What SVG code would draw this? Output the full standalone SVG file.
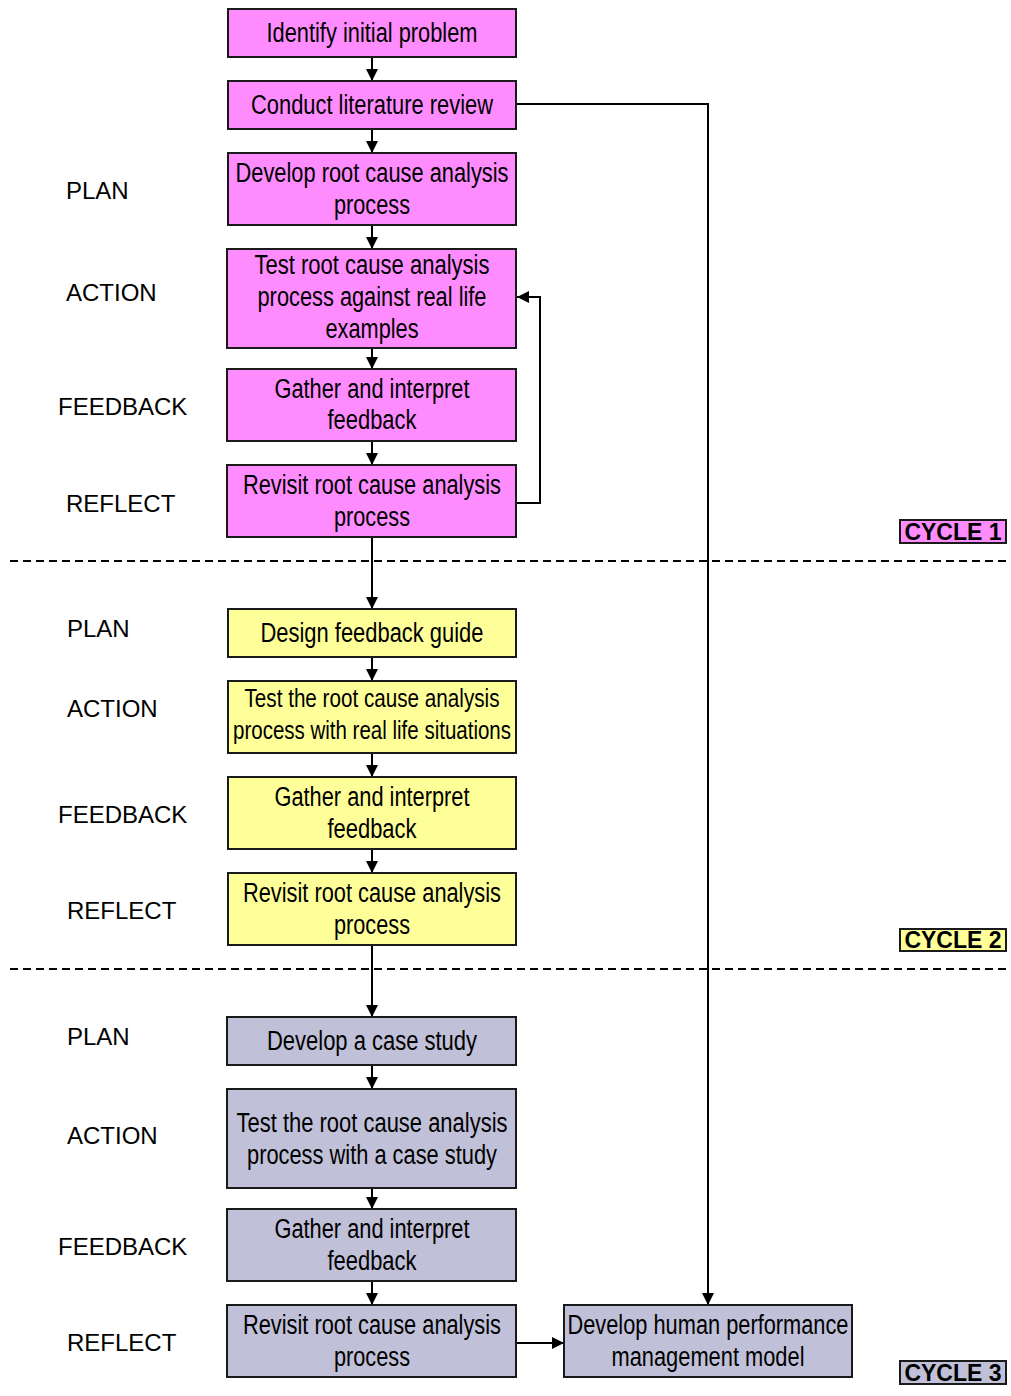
<svg xmlns="http://www.w3.org/2000/svg" width="1011" height="1396" viewBox="0 0 1011 1396">
<style>
.box{stroke:#1a1a1a;stroke-width:2}
.c1{fill:#ff8cff}
.c2{fill:#ffff99}
.c3{fill:#c0c0d8}
.t{font-family:"Liberation Sans Narrow","Liberation Sans",Arial,sans-serif;font-size:27px;fill:#000;text-anchor:middle}
.lab{font-family:"Liberation Sans",Arial,sans-serif;font-size:24px;fill:#000}
.cyc{font-family:"Liberation Sans",Arial,sans-serif;font-size:23px;font-weight:bold;fill:#000;text-anchor:middle}
.con{fill:none;stroke:#000;stroke-width:2}
.dash{stroke:#000;stroke-width:2;stroke-dasharray:8,5}
</style>
<defs>
<marker id="ah" markerUnits="userSpaceOnUse" markerWidth="14" markerHeight="12" refX="12" refY="6" orient="auto">
<path d="M0,0 L12,6 L0,12 Z" fill="#000"/>
</marker>
</defs>
<rect width="1011" height="1396" fill="#fff"/>

<!-- dashed separators -->
<line class="dash" x1="10" y1="561" x2="1011" y2="561"/>
<line class="dash" x1="10" y1="969" x2="1011" y2="969"/>

<!-- stage labels -->
<g id="labels">
<text class="lab" x="66" y="199">PLAN</text>
<text class="lab" x="66" y="301">ACTION</text>
<text class="lab" x="58" y="415">FEEDBACK</text>
<text class="lab" x="66" y="512">REFLECT</text>
<text class="lab" x="67" y="637">PLAN</text>
<text class="lab" x="67" y="717">ACTION</text>
<text class="lab" x="58" y="823">FEEDBACK</text>
<text class="lab" x="67" y="919">REFLECT</text>
<text class="lab" x="67" y="1045">PLAN</text>
<text class="lab" x="67" y="1144">ACTION</text>
<text class="lab" x="58" y="1255">FEEDBACK</text>
<text class="lab" x="67" y="1351">REFLECT</text>
</g>

<!-- cycle labels -->
<g id="cycle1"><rect class="box c1" x="900" y="520" width="106" height="23"/><text class="cyc" x="953" y="540">CYCLE 1</text></g>
<g id="cycle2"><rect class="box c2" x="900" y="929" width="106" height="22"/><text class="cyc" x="953" y="948">CYCLE 2</text></g>
<g id="cycle3"><rect class="box c3" x="900" y="1361" width="106" height="23"/><text class="cyc" x="953" y="1381">CYCLE 3</text></g>

<!-- connectors -->
<g id="connectors">
<line class="con" x1="372" y1="57" x2="372" y2="81" marker-end="url(#ah)"/>
<line class="con" x1="372" y1="129" x2="372" y2="153" marker-end="url(#ah)"/>
<line class="con" x1="372" y1="225" x2="372" y2="249" marker-end="url(#ah)"/>
<line class="con" x1="372" y1="348" x2="372" y2="369" marker-end="url(#ah)"/>
<line class="con" x1="372" y1="441" x2="372" y2="465" marker-end="url(#ah)"/>
<line class="con" x1="372" y1="537" x2="372" y2="609" marker-end="url(#ah)"/>
<line class="con" x1="372" y1="657" x2="372" y2="681" marker-end="url(#ah)"/>
<line class="con" x1="372" y1="753" x2="372" y2="777" marker-end="url(#ah)"/>
<line class="con" x1="372" y1="849" x2="372" y2="873" marker-end="url(#ah)"/>
<line class="con" x1="372" y1="945" x2="372" y2="1017" marker-end="url(#ah)"/>
<line class="con" x1="372" y1="1065" x2="372" y2="1089" marker-end="url(#ah)"/>
<line class="con" x1="372" y1="1188" x2="372" y2="1209" marker-end="url(#ah)"/>
<line class="con" x1="372" y1="1281" x2="372" y2="1305" marker-end="url(#ah)"/>
<line class="con" x1="516" y1="1343" x2="564" y2="1343" marker-end="url(#ah)"/>
<polyline class="con" points="516,503 540,503 540,297 517,297" marker-end="url(#ah)"/>
<polyline class="con" points="516,104 708,104 708,1305" marker-end="url(#ah)"/>
</g>

<!-- cycle 1 nodes -->
<g id="n1"><rect class="box c1" x="228" y="9" width="288" height="48"/>
<text class="t" x="372" y="42" textLength="211" lengthAdjust="spacingAndGlyphs">Identify initial problem</text></g>
<g id="n2"><rect class="box c1" x="228" y="81" width="288" height="48"/>
<text class="t" x="372" y="114" textLength="242" lengthAdjust="spacingAndGlyphs">Conduct literature review</text></g>
<g id="n3"><rect class="box c1" x="228" y="153" width="288" height="72"/>
<text class="t" x="372" y="182" textLength="273" lengthAdjust="spacingAndGlyphs">Develop root cause analysis</text>
<text class="t" x="372" y="214" textLength="76" lengthAdjust="spacingAndGlyphs">process</text></g>
<g id="n4"><rect class="box c1" x="227" y="249" width="289" height="99"/>
<text class="t" x="372" y="274" textLength="235" lengthAdjust="spacingAndGlyphs">Test root cause analysis</text>
<text class="t" x="372" y="306" textLength="229" lengthAdjust="spacingAndGlyphs">process against real life</text>
<text class="t" x="372" y="338" textLength="93" lengthAdjust="spacingAndGlyphs">examples</text></g>
<g id="n5"><rect class="box c1" x="227" y="369" width="289" height="72"/>
<text class="t" x="372" y="398" textLength="195" lengthAdjust="spacingAndGlyphs">Gather and interpret</text>
<text class="t" x="372" y="429" textLength="89" lengthAdjust="spacingAndGlyphs">feedback</text></g>
<g id="n6"><rect class="box c1" x="227" y="465" width="289" height="72"/>
<text class="t" x="372" y="494" textLength="258" lengthAdjust="spacingAndGlyphs">Revisit root cause analysis</text>
<text class="t" x="372" y="526" textLength="76" lengthAdjust="spacingAndGlyphs">process</text></g>

<!-- cycle 2 nodes -->
<g id="n7"><rect class="box c2" x="228" y="609" width="288" height="48"/>
<text class="t" x="372" y="642" textLength="223" lengthAdjust="spacingAndGlyphs">Design feedback guide</text></g>
<g id="n8"><rect class="box c2" x="228" y="681" width="288" height="72"/>
<text class="t" x="372" y="707" textLength="255" lengthAdjust="spacingAndGlyphs" style="font-size:25px">Test the root cause analysis</text>
<text class="t" x="372" y="739" textLength="278" lengthAdjust="spacingAndGlyphs" style="font-size:25px">process with real life situations</text></g>
<g id="n9"><rect class="box c2" x="228" y="777" width="288" height="72"/>
<text class="t" x="372" y="806" textLength="195" lengthAdjust="spacingAndGlyphs">Gather and interpret</text>
<text class="t" x="372" y="838" textLength="89" lengthAdjust="spacingAndGlyphs">feedback</text></g>
<g id="n10"><rect class="box c2" x="228" y="873" width="288" height="72"/>
<text class="t" x="372" y="902" textLength="258" lengthAdjust="spacingAndGlyphs">Revisit root cause analysis</text>
<text class="t" x="372" y="934" textLength="76" lengthAdjust="spacingAndGlyphs">process</text></g>

<!-- cycle 3 nodes -->
<g id="n11"><rect class="box c3" x="227" y="1017" width="289" height="48"/>
<text class="t" x="372" y="1050" textLength="210" lengthAdjust="spacingAndGlyphs">Develop a case study</text></g>
<g id="n12"><rect class="box c3" x="227" y="1089" width="289" height="99"/>
<text class="t" x="372" y="1132" textLength="271" lengthAdjust="spacingAndGlyphs">Test the root cause analysis</text>
<text class="t" x="372" y="1164" textLength="250" lengthAdjust="spacingAndGlyphs">process with a case study</text></g>
<g id="n13"><rect class="box c3" x="227" y="1209" width="289" height="72"/>
<text class="t" x="372" y="1238" textLength="195" lengthAdjust="spacingAndGlyphs">Gather and interpret</text>
<text class="t" x="372" y="1270" textLength="89" lengthAdjust="spacingAndGlyphs">feedback</text></g>
<g id="n14"><rect class="box c3" x="227" y="1305" width="289" height="72"/>
<text class="t" x="372" y="1334" textLength="258" lengthAdjust="spacingAndGlyphs">Revisit root cause analysis</text>
<text class="t" x="372" y="1366" textLength="76" lengthAdjust="spacingAndGlyphs">process</text></g>
<g id="n15"><rect class="box c3" x="564" y="1305" width="288" height="72"/>
<text class="t" x="708" y="1334" textLength="281" lengthAdjust="spacingAndGlyphs">Develop human performance</text>
<text class="t" x="708" y="1366" textLength="193" lengthAdjust="spacingAndGlyphs">management model</text></g>
</svg>
